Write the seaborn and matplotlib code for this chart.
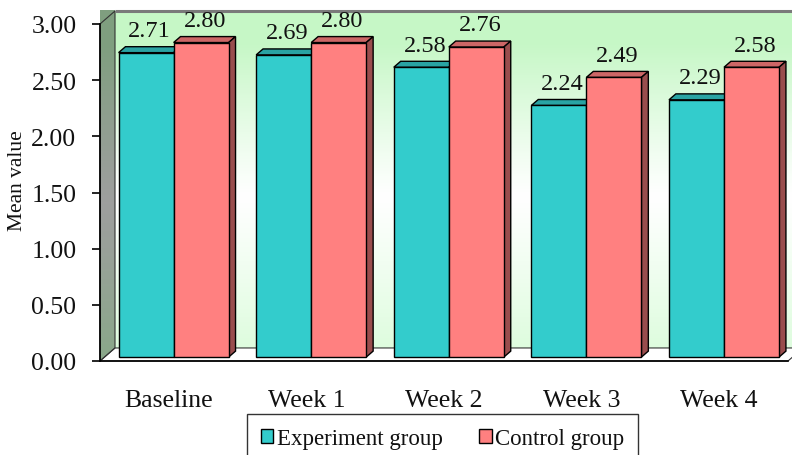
import numpy as np
import pandas as pd
import matplotlib
matplotlib.use("Agg")
import matplotlib.pyplot as plt
from matplotlib.patches import Polygon, Patch
import seaborn as sns

# ---- data ----
periods = ["Baseline", "Week 1", "Week 2", "Week 3", "Week 4"]
groups = ["Experiment group", "Control group"]
experiment_values = [2.71, 2.69, 2.58, 2.24, 2.29]
control_values = [2.80, 2.80, 2.76, 2.49, 2.58]
y_ticks = [0.0, 0.5, 1.0, 1.5, 2.0, 2.5, 3.0]

df = pd.DataFrame({
    "period": periods * 2,
    "group": [groups[0]] * len(periods) + [groups[1]] * len(periods),
    "value": experiment_values + control_values,
})

# ---- style ----
sns.set_style("white")
plt.rcParams["font.family"] = ["Liberation Serif", "DejaVu Serif"]
plt.rcParams["text.color"] = "#111111"

CYAN = "#33CCCC"
SALMON = "#FF8080"
face_dark = {CYAN: ("#29a3a3", "#1f7a7a"), SALMON: ("#cc6666", "#994d4d")}

fig = plt.figure(figsize=(7.92, 4.56), dpi=100)
ax = fig.add_axes([100 / 792, 1 - 362 / 456, 688 / 792, 337 / 456])

sns.barplot(data=df, x="period", y="value", hue="group", palette=[CYAN, SALMON],
            width=0.8, saturation=1, edgecolor="black", linewidth=1.0,
            legend=False, ax=ax, zorder=3)

XMIN, XMAX, YMAX = -0.5, len(periods) - 0.5, 3.0
# depth of the chart box (walls / floor) and of the bars, in data units
DX, DY = 0.109, 0.116
BX, BY = 0.05, 0.053
OX, OY = 0.035, 0.035

# ---- back wall with a soft green-white-green gradient ----
t = np.linspace(0, 1, 300)[:, None]
top_c = np.array([0.78, 0.97, 0.78])
mid_c = np.array([1.0, 1.0, 1.0])
bot_c = np.array([0.87, 0.99, 0.87])
w = np.clip(np.abs(t - 0.55) / 0.45, 0, 1) ** 1.1
base = np.where(t < 0.55, 1, 0)
col = base * (mid_c + (top_c - mid_c) * w) + (1 - base) * (mid_c + (bot_c - mid_c) * w)
wall = np.repeat(col[:, None, :], 2, axis=1)
ax.imshow(wall, extent=[XMIN + DX, XMAX + DX, DY, YMAX + DY], aspect="auto",
          origin="upper", zorder=0, clip_on=False, interpolation="bilinear")

# ---- left side wall ----
side_top = np.array([0.50, 0.62, 0.50])
side_mid = np.array([0.62, 0.62, 0.62])
side_bot = np.array([0.54, 0.66, 0.54])
scol = base * (side_mid + (side_top - side_mid) * w) + (1 - base) * (side_mid + (side_bot - side_mid) * w)
side_img = ax.imshow(np.repeat(scol[:, None, :], 2, axis=1),
                     extent=[XMIN, XMIN + DX, 0, YMAX + DY], aspect="auto",
                     origin="upper", zorder=1, clip_on=False, interpolation="bilinear")
side_poly = Polygon([(XMIN, 0), (XMIN + DX, DY), (XMIN + DX, YMAX + DY), (XMIN, YMAX)],
                    closed=True, facecolor="none", edgecolor="#333333", lw=0.8,
                    zorder=1.5, clip_on=False)
ax.add_patch(side_poly)
side_img.set_clip_path(side_poly)

# ---- floor ----
ax.add_patch(Polygon([(XMIN, 0), (XMIN + DX, DY), (XMAX + DX, DY), (XMAX, 0)],
                     closed=True, facecolor="white", edgecolor="#333333", lw=0.8,
                     zorder=1, clip_on=False))
# top edge of the back wall
ax.plot([XMIN + DX, XMAX + DX], [YMAX + DY, YMAX + DY], color="#7a7a7a", lw=2.2,
        zorder=1.6, clip_on=False, solid_capstyle="butt")

# ---- bars: shift to mid depth and add top / side faces ----
for container, color in zip(ax.containers, [CYAN, SALMON]):
    top_col, side_col = face_dark[color]
    for bar, val in zip(container.patches, container.datavalues):
        bar.set_x(bar.get_x() + OX)
        bar.set_y(OY)
        x0, wdt, h = bar.get_x(), bar.get_width(), bar.get_height()
        y1 = OY + h
        ax.add_patch(Polygon([(x0, y1), (x0 + BX, y1 + BY), (x0 + wdt + BX, y1 + BY), (x0 + wdt, y1)],
                             closed=True, facecolor=top_col, edgecolor="black", lw=1.0,
                             zorder=2.5, clip_on=False))
        ax.add_patch(Polygon([(x0 + wdt, OY), (x0 + wdt + BX, OY + BY), (x0 + wdt + BX, y1 + BY), (x0 + wdt, y1)],
                             closed=True, facecolor=side_col, edgecolor="black", lw=1.0,
                             zorder=2.5, clip_on=False))
        ax.annotate(f"{val:.2f}", xy=(x0 + wdt / 2 + BX / 2, val + OY),
                    xytext=(0, 12), textcoords="offset points",
                    ha="center", va="baseline", fontsize=17.5, color="#111111",
                    zorder=5, annotation_clip=False)

# ---- axes ----
ax.set_xlim(XMIN, XMAX)
ax.set_ylim(0, YMAX)
ax.set_yticks(y_ticks)
ax.set_yticklabels([f"{v:.2f}" for v in y_ticks], fontsize=18.5, color="#111111")
ax.set_xticks(range(len(periods)))
ax.set_xticklabels(periods, fontsize=18.5, color="#111111")
ax.set_xticks(np.arange(XMIN, XMAX + 0.01, 1.0), minor=True)
ax.tick_params(axis="x", which="major", length=0, pad=20)
ax.tick_params(axis="x", which="minor", length=6, width=1.2, direction="out", color="black")
ax.tick_params(axis="y", length=6, width=1.2, direction="out", color="black", pad=11, left=True)
ax.set_xlabel("")
ax.set_ylabel("Mean value", fontsize=15.5, color="#111111")
ax.yaxis.set_label_coords(-0.106, 0.537)

for s in ["top", "right"]:
    ax.spines[s].set_visible(False)
for s in ["left", "bottom"]:
    ax.spines[s].set_color("black")
    ax.spines[s].set_linewidth(1.2)
    ax.spines[s].set_zorder(4)

# ---- legend ----
handles = [Patch(facecolor=c, edgecolor="black", lw=1.0) for c in [CYAN, SALMON]]
fig.legend(handles, groups, loc="upper center", bbox_to_anchor=(0.5587, 0.0895),
           ncol=2, fontsize=16.5, frameon=True, fancybox=False, edgecolor="black",
           handlelength=0.55, handleheight=0.55, handletextpad=0.15,
           columnspacing=1.6, borderpad=0.6, borderaxespad=0)

fig.savefig("out.png", dpi=100)
